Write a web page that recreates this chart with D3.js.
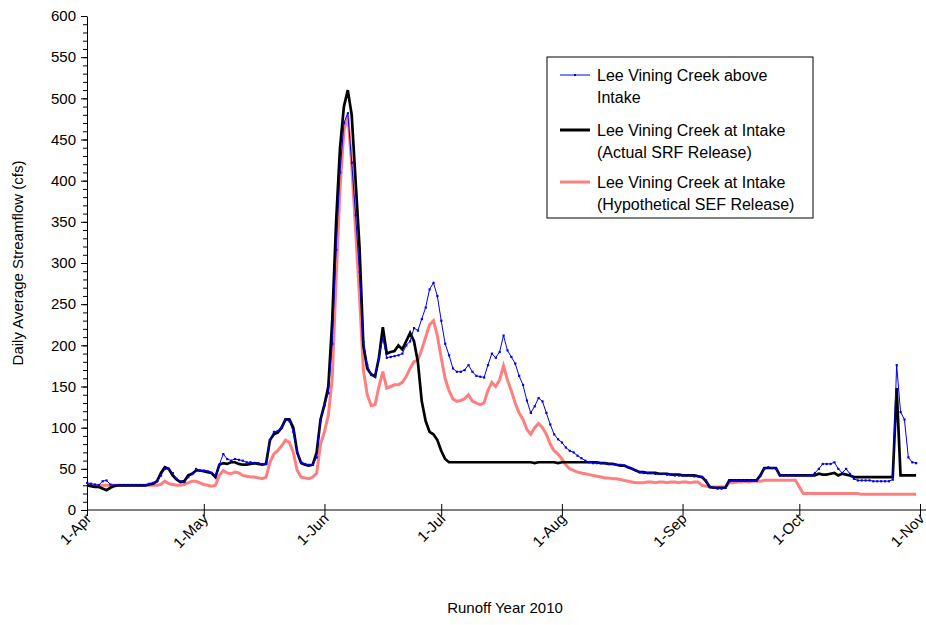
<!DOCTYPE html>
<html><head><meta charset="utf-8">
<script src="https://cdn.jsdelivr.net/npm/d3@7"></script>
<style>body{margin:0;background:#fff}text{font-family:"Liberation Sans",Arial,sans-serif}</style>
</head><body><svg id="c" width="926" height="625"></svg>
<script>
const startDate = "2010-04-01";
const xTickLabels = ["1-Apr","1-May","1-Jun","1-Jul","1-Aug","1-Sep","1-Oct","1-Nov"];
const xTickDates = ["2010-04-01","2010-05-01","2010-06-01","2010-07-01","2010-08-01","2010-09-01","2010-10-01","2010-11-01"];
const yTicks = [0,50,100,150,200,250,300,350,400,450,500,550,600];
const seriesNames = ["Lee Vining Creek above\nIntake","Lee Vining Creek at Intake\n(Actual SRF Release)","Lee Vining Creek at Intake\n(Hypothetical SEF Release)"];
const above = [33,32,31,30,35,36,31,30,30,30, 30,30,30,30,30,30,32,33,35,42, 50,50,45,38,35,34,40,44,50,48,
48,47,45,42,55,68,62,60,62,61, 60,58,58,57,57,56,56,85,95,96, 100,110,108,95,70,58,56,55,55,64,
109,127,142,202,316,410,470,482,422,358, 289,204,176,164,162,185,209,185,186,187, 188,190,200,205,221,218,232,246,268,276,
260,230,202,188,172,168,168,170,176,168, 163,162,161,176,190,185,192,212,194,186, 178,163,152,133,118,126,136,132,118,104,
92,86,82,76,72,70,66,63,60,58, 57,57,57,57,56,56,55,55,54,52, 50,48,46,45,45,45,44,44,44,43,
43,42,42,42,42,42,41,41,40,36, 28,27,26,26,27,35,36,36,36,36, 36,36,36,42,50,52,51,50,42,42,
42,42,42,42,42,42,42,45,50,56, 56,56,58,50,45,50,44,38,36,36, 36,36,35,35,35,35,35,37,176,119, 110,64,58,57];
const actual = [30,29,28,28,26,24,27,29,30,30, 30,30,30,30,30,30,31,32,35,45, 52,50,42,37,34,35,42,44,48,48,
47,46,45,40,55,57,56,58,58,56, 55,55,56,57,56,55,56,85,92,94, 100,110,110,100,70,57,55,54,55,70,
110,128,150,230,350,440,490,510,480,400, 320,200,172,165,162,185,222,190,192,193, 200,195,205,215,205,180,132,108,95,92,
85,72,62,58,58,58,58,58,58,58, 58,58,58,58,58,58,58,58,58,58, 58,58,58,58,58,57,58,58,58,58,
58,57,58,58,58,58,58,58,58,58, 58,58,57,57,56,56,55,54,54,52, 50,48,46,46,45,45,45,44,44,44,
43,43,43,42,42,42,42,41,40,35, 28,27,27,27,27,36,36,36,36,36, 36,36,36,42,51,51,51,51,42,42,
42,42,42,42,42,42,42,42,44,43, 43,44,45,42,44,43,42,40,40,40, 40,40,40,40,40,40,40,40,148,42, 42,42,42,42];
const hypothetical = [30,30,30,30,30,30,30,30,30,30, 30,30,30,30,30,30,30,30,30,31, 35,32,31,30,30,31,33,35,35,33,
31,30,29,30,42,48,45,44,46,45, 42,41,40,40,39,38,40,58,68,72, 78,85,82,70,48,40,39,38,40,45,
80,95,115,160,280,390,460,480,420,340, 260,170,140,127,128,150,168,148,150,152, 152,155,162,172,180,182,195,210,225,230,
212,185,160,145,135,132,133,135,140,132, 130,128,130,145,155,150,158,175,158,145, 130,118,110,98,92,100,105,100,92,80,
72,68,62,55,50,48,46,45,44,43, 42,41,40,39,39,38,38,37,36,35, 34,33,33,33,34,34,33,34,34,33,
34,34,33,34,34,33,34,34,30,29, 28,28,28,28,28,33,33,34,34,35, 34,35,35,35,36,36,36,36,36,36,
36,36,36,28,20,20,20,20,20,20, 20,20,20,20,20,20,20,20,20,19, 19,19,19,19,19,19,19,19,19,19, 19,19,19,19];

const parse = d3.utcParse("%Y-%m-%d");
const t0 = parse(startDate);
const dayOf = i => d3.utcDay.offset(t0, i);
const svg = d3.select("#c");
const L=87, R=920, T=16, B=510;
const x = d3.scaleUtc().domain([t0, parse("2010-11-01")]).range([L, R]);
const y = d3.scaleLinear().domain([0,600]).range([B,T]);

const ya = svg.append("g").attr("transform",`translate(${L},0)`)
  .call(d3.axisLeft(y).tickValues(yTicks).tickSize(6).tickSizeOuter(0));
ya.selectAll("text").attr("font-size",15).attr("fill","#000").attr("dx",-2);
ya.select(".domain").attr("stroke","#000");
svg.append("g").attr("transform",`translate(${L},0)`)
  .call(d3.axisLeft(y).tickValues(d3.range(0,601,10)).tickSize(4).tickFormat(""))
  .call(g=>g.select(".domain").remove());
const xa = svg.append("g").attr("transform",`translate(0,${B})`)
  .call(d3.axisBottom(x).tickValues(xTickDates.map(parse)).tickFormat((d,i)=>xTickLabels[i]).tickSize(6).tickSizeOuter(0));
xa.select(".domain").attr("stroke","#000").attr("d",`M${L},0H926`);
xa.selectAll(".tick line").attr("y1",-6);
xa.selectAll("text").attr("font-size",15).attr("fill","#000")
  .attr("text-anchor","end").attr("transform","translate(1,6) rotate(-45)").attr("dy","0.35em").attr("y",0).attr("x",0);

svg.append("text").attr("x",505).attr("y",613).attr("text-anchor","middle").attr("font-size",15).text("Runoff Year 2010");
svg.append("text").attr("transform",`translate(23,${(T+B)/2}) rotate(-90)`).attr("text-anchor","middle").attr("font-size",15).text("Daily Average Streamflow (cfs)");

const line = d3.line().x((d,i)=>x(dayOf(i))).y(d=>y(d));
svg.append("path").datum(hypothetical).attr("d",line).attr("fill","none").attr("stroke","#ff7f7f").attr("stroke-width",3);
svg.append("path").datum(actual).attr("d",line).attr("fill","none").attr("stroke","#000").attr("stroke-width",2.7);
svg.append("path").datum(above).attr("d",line).attr("fill","none").attr("stroke","#0000ee").attr("stroke-width",1);
svg.append("g").selectAll("rect").data(above).join("rect")
  .attr("x",(d,i)=>x(dayOf(i))-1).attr("y",d=>y(d)-1).attr("width",2.2).attr("height",2.2).attr("fill","#0000ee");

const lg = svg.append("g");
lg.append("rect").attr("x",547).attr("y",57).attr("width",266).attr("height",161).attr("fill","#fff").attr("stroke","#000");
const colors=["#0000ee","#000","#ff7f7f"], widths=[1,3,3], rows=[75,130,182];
seriesNames.forEach((n,k)=>{
  lg.append("line").attr("x1",560).attr("x2",590).attr("y1",rows[k]).attr("y2",rows[k]).attr("stroke",colors[k]).attr("stroke-width",widths[k]);
  if(k===0) lg.append("rect").attr("x",574).attr("y",rows[k]-1).attr("width",2).attr("height",2).attr("fill",colors[k]);
  n.split("\n").forEach((s,j)=>lg.append("text").attr("x",597).attr("y",rows[k]+j*22).attr("dy","0.35em").attr("font-size",16).text(s));
});
</script></body></html>
